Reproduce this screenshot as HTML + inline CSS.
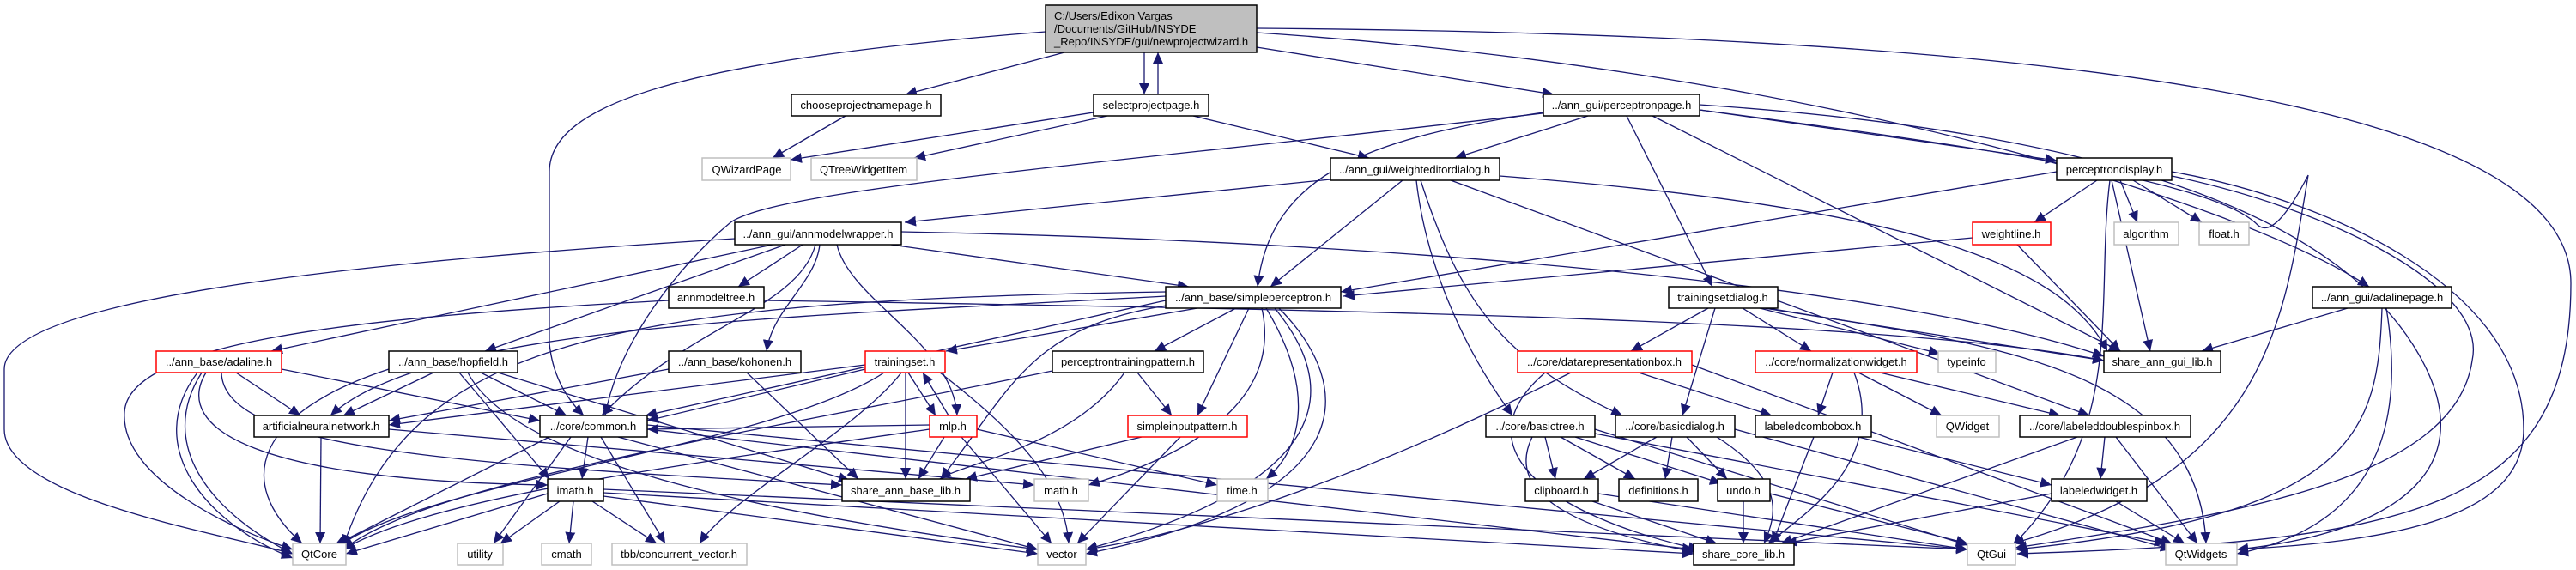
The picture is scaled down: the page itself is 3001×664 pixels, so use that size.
<!DOCTYPE html>
<html><head><meta charset="utf-8"><style>
html,body{margin:0;padding:0;background:#fff;}
svg{display:block;}
text{font-family:"Liberation Sans",Arial,sans-serif;font-size:13px;fill:#000;}
.e{fill:none;stroke:#191970;stroke-width:1.3;marker-end:url(#a);}
.n{fill:#fff;stroke:#000;stroke-width:1.5;}
.g{fill:#fff;stroke:#bfbfbf;stroke-width:1.5;}
.r{fill:#fff;stroke:#ff0000;stroke-width:1.5;}
</style></head><body>
<svg width="3001" height="664" viewBox="0 0 3001 664" xmlns="http://www.w3.org/2000/svg">
<defs><marker id="a" markerUnits="userSpaceOnUse" markerWidth="14" markerHeight="12" refX="13" refY="6" orient="auto"><path d="M0,0 L13,6 L0,12 z" fill="#191970"/></marker></defs>
<g>
<!-- root -->
<path class="e" d="M1240,61 L1055,110"/>
<path class="e" d="M1333,61 L1333,110"/>
<path class="e" d="M1349,110 L1349,61"/>
<path class="e" d="M1464,55 L1810,110"/>
<path class="e" d="M1218,37 C800,70 640,120 640,200 L640,400 Q645,450 680,484"/>
<path class="e" d="M1464,33 C2400,40 2995,120 2995,330 C2995,600 2800,630 2350,645"/>
<path class="e" d="M1464,38 C2100,80 2600,230 2760,334"/>
<path class="e" d="M985,135 L900,184"/>
<path class="e" d="M1274,131 L921,186"/>
<path class="e" d="M1290,135 L1065,184"/>
<path class="e" d="M1390,135 L1595,184"/>
<!-- perceptronpage -->
<path class="e" d="M1850,135 L1695,184"/>
<path class="e" d="M1980,128 L2396,187"/>
<path class="e" d="M1895,135 L1995,334"/>
<path class="e" d="M1798,131 C1600,160 1480,200 1465,334"/>
<path class="e" d="M1797,132 C1300,190 900,220 850,260 C790,310 720,400 705,484"/>
<path class="e" d="M1925,135 L2470,409"/>
<path class="e" d="M1980,128 C2300,170 2580,210 2630,262 Q2650,280 2689,204 C2660,380 2640,550 2345,633"/>
<path class="e" d="M1980,122 C2400,150 2700,230 2810,400 C2900,540 2800,620 2606,640"/>
<!-- weighteditordialog -->
<path class="e" d="M1550,209 L1054,259"/>
<path class="e" d="M1634,210 L1480,334"/>
<path class="e" d="M1747,205 C2200,240 2400,300 2455,409"/>
<path class="e" d="M1650,210 C1660,300 1700,400 1762,484"/>
<path class="e" d="M1655,210 C1700,350 1750,420 1890,484"/>
<path class="e" d="M1690,210 L2434,484"/>
<!-- perceptrondisplay -->
<path class="e" d="M2443,210 L2370,259"/>
<path class="e" d="M2470,210 L2490,259"/>
<path class="e" d="M2485,210 L2565,259"/>
<path class="e" d="M2396,200 L1562,340"/>
<path class="e" d="M2460,210 L2505,409"/>
<path class="e" d="M2458,210 C2440,350 2480,500 2345,635"/>
<path class="e" d="M2530,200 C2700,230 2940,330 2940,500 C2940,600 2800,630 2606,640"/>
<path class="e" d="M2530,205 C2700,240 2900,330 2880,420 C2860,560 2600,600 2348,638"/>
<path class="e" d="M2298,277 L1565,345"/>
<path class="e" d="M2350,285 L2470,409"/>
<!-- trainingsetdialog / adalinepage -->
<path class="e" d="M1990,359 L1900,409"/>
<path class="e" d="M2030,359 L2110,409"/>
<path class="e" d="M1998,359 L1960,484"/>
<path class="e" d="M2050,359 L2260,412"/>
<path class="e" d="M2055,359 L2451,420"/>
<path class="e" d="M2060,359 C2300,400 2560,420 2570,633"/>
<path class="e" d="M2735,359 L2565,409"/>
<path class="e" d="M2775,359 C2770,500 2750,600 2348,640"/>
<path class="e" d="M2780,359 C2800,480 2780,610 2606,645"/>
<!-- annmodelwrapper -->
<path class="e" d="M900,285 L316,409"/>
<path class="e" d="M915,285 L565,409"/>
<path class="e" d="M955,285 C950,330 900,360 893,409"/>
<path class="e" d="M935,285 L860,334"/>
<path class="e" d="M1038,285 L1385,334"/>
<path class="e" d="M975,285 C990,350 1110,400 1115,484"/>
<path class="e" d="M950,285 C930,360 800,380 701,484"/>
<path class="e" d="M1050,270 C1600,280 2200,330 2451,415"/>
<path class="e" d="M856,278 C500,300 5,340 5,430 L5,500 C5,580 250,620 341,645"/>
<path class="e" d="M890,350 C1500,360 2200,370 2451,420"/>
<path class="e" d="M779,350 C400,370 150,400 145,480 C140,560 280,620 341,640"/>
<!-- simpleperceptron -->
<path class="e" d="M1395,359 L1102,409"/>
<path class="e" d="M1440,359 L1345,409"/>
<path class="e" d="M1455,359 L1395,484"/>
<path class="e" d="M1358,350 L752,484"/>
<path class="e" d="M1358,345 C900,370 500,380 385,484"/>
<path class="e" d="M1365,355 C1200,380 1180,450 1096,558"/>
<path class="e" d="M1470,359 C1490,450 1420,520 1268,565"/>
<path class="e" d="M1475,359 C1530,450 1520,520 1475,558"/>
<path class="e" d="M1485,359 C1560,450 1560,560 1265,640"/>
<path class="e" d="M1490,359 C1580,450 1590,580 1265,645"/>
<path class="e" d="M1358,340 C700,350 480,400 400,636"/>
<!-- adaline -->
<path class="e" d="M275,434 L350,484"/>
<path class="e" d="M328,430 L629,490"/>
<path class="e" d="M240,434 C200,500 300,560 638,565"/>
<path class="e" d="M235,434 C180,520 250,600 341,645"/>
<path class="e" d="M230,434 C165,520 240,610 341,650"/>
<path class="e" d="M258,434 C260,520 500,540 981,565"/>
<!-- hopfield -->
<path class="e" d="M505,434 L400,484"/>
<path class="e" d="M560,434 L660,484"/>
<path class="e" d="M535,434 L640,558"/>
<path class="e" d="M580,434 L990,560"/>
<path class="e" d="M545,434 C600,540 900,600 1209,640"/>
<path class="e" d="M453,430 C300,480 270,560 352,633"/>
<!-- kohonen -->
<path class="e" d="M779,430 L453,490"/>
<path class="e" d="M870,434 L1000,558"/>
<!-- trainingset -->
<path class="e" d="M1058,434 L1090,484"/>
<path class="e" d="M1105,484 L1075,434"/>
<path class="e" d="M1008,430 L754,490"/>
<path class="e" d="M1055,434 L1055,558"/>
<path class="e" d="M1095,434 C1180,500 1240,560 1245,633"/>
<path class="e" d="M1050,434 C1000,500 850,580 815,633"/>
<path class="e" d="M1008,425 L453,495"/>
<path class="e" d="M1030,434 C900,520 500,560 395,636"/>
<!-- mlp -->
<path class="e" d="M1100,509 L1070,558"/>
<path class="e" d="M1120,509 L1225,633"/>
<path class="e" d="M1138,500 L1418,565"/>
<path class="e" d="M1083,495 L754,500"/>
<path class="e" d="M1083,500 C800,540 500,580 400,640"/>
<!-- ptp / sip -->
<path class="e" d="M1325,434 L1365,484"/>
<path class="e" d="M1310,434 C1250,520 1120,540 1095,558"/>
<path class="e" d="M1226,432 C900,500 500,560 400,640"/>
<path class="e" d="M1330,509 L1125,558"/>
<path class="e" d="M1375,509 L1255,633"/>
<!-- drb / nw -->
<path class="e" d="M1909,434 L2064,484"/>
<path class="e" d="M1800,434 C1700,520 1800,600 1980,640"/>
<path class="e" d="M1830,434 C1600,550 1400,620 1265,640"/>
<path class="e" d="M1971,425 L2530,633"/>
<path class="e" d="M2135,434 L2118,484"/>
<path class="e" d="M2165,434 L2262,484"/>
<path class="e" d="M2190,434 L2400,484"/>
<path class="e" d="M2160,434 C2200,540 2100,600 2060,633"/>
<!-- ann / common -->
<path class="e" d="M374,509 L373,633"/>
<path class="e" d="M453,500 L1205,565"/>
<path class="e" d="M685,509 L678,558"/>
<path class="e" d="M640,509 L390,635"/>
<path class="e" d="M665,509 L575,633"/>
<path class="e" d="M700,509 L775,633"/>
<path class="e" d="M720,509 L1209,640"/>
<path class="e" d="M754,500 L1973,640"/>
<path class="e" d="M754,495 L2292,640"/>
<!-- basictree / basicdialog -->
<path class="e" d="M1800,509 L1812,558"/>
<path class="e" d="M1818,509 L1905,558"/>
<path class="e" d="M1835,509 L2005,563"/>
<path class="e" d="M1785,509 C1750,580 1850,620 1975,643"/>
<path class="e" d="M1858,500 L2292,635"/>
<path class="e" d="M1858,505 L2523,633"/>
<path class="e" d="M1930,509 L1845,558"/>
<path class="e" d="M1948,509 L1940,558"/>
<path class="e" d="M1965,509 L2012,558"/>
<path class="e" d="M2000,509 C2080,560 2070,600 2055,633"/>
<path class="e" d="M2021,500 L2530,640"/>
<!-- lcb / ldsb -->
<path class="e" d="M2165,509 L2390,565"/>
<path class="e" d="M2113,509 L2065,633"/>
<path class="e" d="M2452,509 L2447,558"/>
<path class="e" d="M2420,509 L2075,633"/>
<path class="e" d="M2465,509 L2560,633"/>
<!-- imath -->
<path class="e" d="M638,575 L403,645"/>
<path class="e" d="M652,584 L583,633"/>
<path class="e" d="M668,584 L663,633"/>
<path class="e" d="M690,584 L765,633"/>
<path class="e" d="M703,578 L1209,645"/>
<path class="e" d="M703,574 L1973,645"/>
<path class="e" d="M703,570 L2292,640"/>
<!-- bottom -->
<path class="e" d="M1855,584 L2000,633"/>
<path class="e" d="M1862,575 L2292,640"/>
<path class="e" d="M2031,584 L2031,633"/>
<path class="e" d="M2062,575 L2292,633"/>
<path class="e" d="M2390,575 L2080,633"/>
<path class="e" d="M2465,584 L2545,633"/>
</g>
<g>
<rect x="1218" y="6" width="246" height="55" fill="#bfbfbf" stroke="#000" stroke-width="1.5"/>
<text x="1228" y="23">C:/Users/Edixon Vargas</text>
<text x="1228" y="38">/Documents/GitHub/INSYDE</text>
<text x="1228" y="53">_Repo/INSYDE/gui/newprojectwizard.h</text>

<rect class="n" x="922" y="110" width="174" height="25"/><text x="1009" y="127" text-anchor="middle">chooseprojectnamepage.h</text>
<rect class="n" x="1274" y="110" width="134" height="25"/><text x="1341" y="127" text-anchor="middle">selectprojectpage.h</text>
<rect class="n" x="1798" y="110" width="182" height="25"/><text x="1889" y="127" text-anchor="middle">../ann_gui/perceptronpage.h</text>

<rect class="g" x="818" y="184" width="103" height="26"/><text x="870" y="202" text-anchor="middle">QWizardPage</text>
<rect class="g" x="945" y="184" width="123" height="26"/><text x="1006" y="202" text-anchor="middle">QTreeWidgetItem</text>
<rect class="n" x="1550" y="184" width="197" height="26"/><text x="1648" y="202" text-anchor="middle">../ann_gui/weighteditordialog.h</text>
<rect class="n" x="2396" y="184" width="134" height="26"/><text x="2463" y="202" text-anchor="middle">perceptrondisplay.h</text>

<rect class="n" x="856" y="259" width="194" height="26"/><text x="953" y="277" text-anchor="middle">../ann_gui/annmodelwrapper.h</text>
<rect class="r" x="2298" y="259" width="91" height="26"/><text x="2343" y="277" text-anchor="middle">weightline.h</text>
<rect class="g" x="2463" y="259" width="75" height="26"/><text x="2500" y="277" text-anchor="middle">algorithm</text>
<rect class="g" x="2562" y="259" width="58" height="26"/><text x="2591" y="277" text-anchor="middle">float.h</text>

<rect class="n" x="779" y="334" width="111" height="25"/><text x="834" y="351" text-anchor="middle">annmodeltree.h</text>
<rect class="n" x="1358" y="334" width="204" height="25"/><text x="1460" y="351" text-anchor="middle">../ann_base/simpleperceptron.h</text>
<rect class="n" x="1944" y="334" width="127" height="25"/><text x="2007" y="351" text-anchor="middle">trainingsetdialog.h</text>
<rect class="n" x="2694" y="334" width="162" height="25"/><text x="2775" y="351" text-anchor="middle">../ann_gui/adalinepage.h</text>

<rect class="r" x="182" y="409" width="146" height="25"/><text x="255" y="426" text-anchor="middle">../ann_base/adaline.h</text>
<rect class="n" x="453" y="409" width="150" height="25"/><text x="528" y="426" text-anchor="middle">../ann_base/hopfield.h</text>
<rect class="n" x="779" y="409" width="154" height="25"/><text x="856" y="426" text-anchor="middle">../ann_base/kohonen.h</text>
<rect class="r" x="1008" y="409" width="93" height="25"/><text x="1054" y="426" text-anchor="middle">trainingset.h</text>
<rect class="n" x="1226" y="409" width="176" height="25"/><text x="1314" y="426" text-anchor="middle">perceptrontrainingpattern.h</text>
<rect class="r" x="1768" y="409" width="203" height="25"/><text x="1869" y="426" text-anchor="middle">../core/datarepresentationbox.h</text>
<rect class="r" x="2045" y="409" width="188" height="25"/><text x="2139" y="426" text-anchor="middle">../core/normalizationwidget.h</text>
<rect class="g" x="2258" y="409" width="67" height="25"/><text x="2291" y="426" text-anchor="middle">typeinfo</text>
<rect class="n" x="2451" y="409" width="136" height="25"/><text x="2519" y="426" text-anchor="middle">share_ann_gui_lib.h</text>

<rect class="n" x="296" y="484" width="157" height="25"/><text x="374" y="501" text-anchor="middle">artificialneuralnetwork.h</text>
<rect class="n" x="629" y="484" width="125" height="25"/><text x="691" y="501" text-anchor="middle">../core/common.h</text>
<rect class="r" x="1083" y="484" width="55" height="25"/><text x="1110" y="501" text-anchor="middle">mlp.h</text>
<rect class="r" x="1314" y="484" width="139" height="25"/><text x="1383" y="501" text-anchor="middle">simpleinputpattern.h</text>
<rect class="n" x="1731" y="484" width="127" height="25"/><text x="1794" y="501" text-anchor="middle">../core/basictree.h</text>
<rect class="n" x="1882" y="484" width="139" height="25"/><text x="1951" y="501" text-anchor="middle">../core/basicdialog.h</text>
<rect class="n" x="2045" y="484" width="135" height="25"/><text x="2112" y="501" text-anchor="middle">labeledcombobox.h</text>
<rect class="g" x="2256" y="484" width="73" height="25"/><text x="2292" y="501" text-anchor="middle">QWidget</text>
<rect class="n" x="2353" y="484" width="199" height="25"/><text x="2452" y="501" text-anchor="middle">../core/labeleddoublespinbox.h</text>

<rect class="n" x="638" y="558" width="65" height="26"/><text x="670" y="576" text-anchor="middle">imath.h</text>
<rect class="n" x="981" y="558" width="149" height="26"/><text x="1055" y="576" text-anchor="middle">share_ann_base_lib.h</text>
<rect class="g" x="1205" y="558" width="63" height="26"/><text x="1236" y="576" text-anchor="middle">math.h</text>
<rect class="g" x="1418" y="558" width="59" height="26"/><text x="1447" y="576" text-anchor="middle">time.h</text>
<rect class="n" x="1777" y="558" width="85" height="26"/><text x="1819" y="576" text-anchor="middle">clipboard.h</text>
<rect class="n" x="1886" y="558" width="92" height="26"/><text x="1932" y="576" text-anchor="middle">definitions.h</text>
<rect class="n" x="2001" y="558" width="61" height="26"/><text x="2031" y="576" text-anchor="middle">undo.h</text>
<rect class="n" x="2390" y="558" width="111" height="26"/><text x="2445" y="576" text-anchor="middle">labeledwidget.h</text>

<rect class="g" x="341" y="633" width="62" height="25"/><text x="372" y="650" text-anchor="middle">QtCore</text>
<rect class="g" x="533" y="633" width="53" height="25"/><text x="559" y="650" text-anchor="middle">utility</text>
<rect class="g" x="631" y="633" width="58" height="25"/><text x="660" y="650" text-anchor="middle">cmath</text>
<rect class="g" x="713" y="633" width="157" height="25"/><text x="791" y="650" text-anchor="middle">tbb/concurrent_vector.h</text>
<rect class="g" x="1209" y="633" width="56" height="25"/><text x="1237" y="650" text-anchor="middle">vector</text>
<rect class="n" x="1973" y="633" width="117" height="25"/><text x="2031" y="650" text-anchor="middle">share_core_lib.h</text>
<rect class="g" x="2292" y="633" width="56" height="25"/><text x="2320" y="650" text-anchor="middle">QtGui</text>
<rect class="g" x="2523" y="633" width="83" height="25"/><text x="2564" y="650" text-anchor="middle">QtWidgets</text>
</g>
</svg>
</body></html>
